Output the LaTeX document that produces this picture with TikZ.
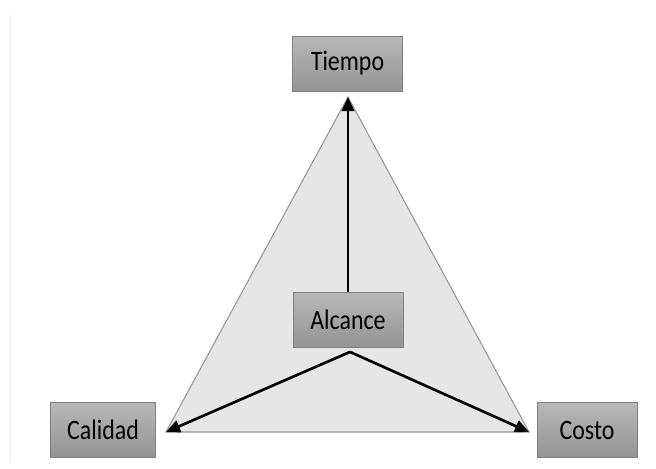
\documentclass[tikz,border=0pt]{standalone}
\usepackage{fontspec}
\setmainfont{Carlito}[FakeStretch=0.85]
\usepackage{xcolor}
\usepackage{tikz}
\usetikzlibrary{arrows.meta,positioning,calc}
\definecolor{boxedge}{RGB}{128,128,128}
\definecolor{trifill}{RGB}{230,230,230}
\definecolor{triedge}{RGB}{150,150,150}
\definecolor{pageedge}{RGB}{236,236,236}

\begin{document}
\begin{tikzpicture}[x=0.02cm,y=-0.02cm,font=\fontsize{16}{19}\selectfont,
  >={Triangle[length=8pt,width=7pt]},
  topic/.style={draw=boxedge,line width=0.5pt,top color=black!28,
                bottom color=black!42,minimum width=#1*0.02cm,
                minimum height=1.1cm,inner sep=0pt},
  link/.style={->,line width=1.5pt}]
\useasboundingbox (0,0) rectangle (656,469);
\draw[pageedge,line width=0.6pt] (10.5,15) -- (10.5,463);
% triangle
\coordinate (top) at (348,97);
\coordinate (left) at (166,432);
\coordinate (right) at (529,432);
\filldraw[fill=trifill,draw=triedge,line width=0.6pt] (top) -- (left) -- (right) -- cycle;
% boxes
\node[topic=110] (tiempo) at (347.5,63.5) {Tiempo};
\node[topic=110] (alcance) at (348,320) {Alcance};
\node[topic=105] (calidad) at (103,429.5) {Calidad};
\node[topic=100] (costo) at (587,430) {Costo};
% arrows
\coordinate (split) at ($(alcance.south)+(2,4)$);
\draw[link] (alcance.north) -- (top);
\draw[link] (split) -- (left); \draw[link] (split) -- (right);
\end{tikzpicture}
\end{document}
